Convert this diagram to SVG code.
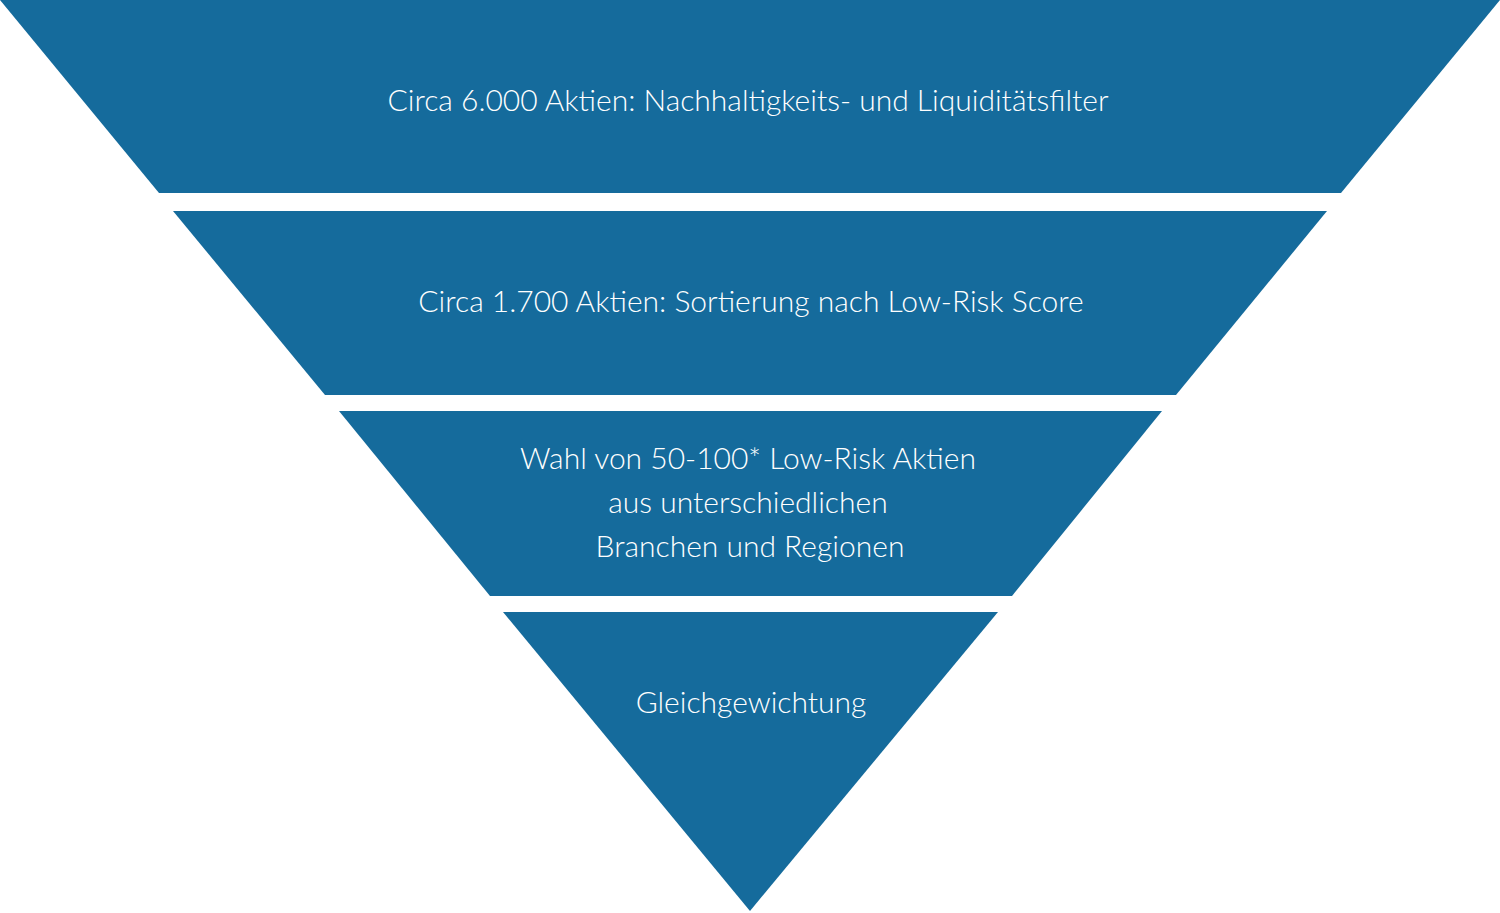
<svg xmlns="http://www.w3.org/2000/svg" width="1500" height="913" viewBox="0 0 1500 913">
<style>
.s{fill:#156b9c}
.t{fill:#fff;font-family:Lato,"Open Sans",sans-serif;font-size:30px;font-weight:300;text-anchor:middle}
</style>
<rect width="1500" height="913" fill="#fff"/>
<g id="level1"><polygon class="s" points="0,0 1500,0 1341,193 159,193"/><text class="t" x="748" y="111">Circa 6.000 Aktien: Nachhaltigkeits- und Liquiditätsfilter</text></g>
<g id="level2"><polygon class="s" points="173,211 1327,211 1176,395 325,395"/><text class="t" x="751" y="312">Circa 1.700 Aktien: Sortierung nach Low-Risk Score</text></g>
<g id="level3"><polygon class="s" points="339,411 1162,411 1012,596 490,596"/><text class="t" x="748" y="469">Wahl von 50-100* Low-Risk Aktien</text><text class="t" x="748" y="513">aus unterschiedlichen</text><text class="t" x="750" y="557">Branchen und Regionen</text></g>
<g id="level4"><polygon class="s" points="503,612 998,612 750,911"/><text class="t" x="751" y="713">Gleichgewichtung</text></g>
<g id="connectors"/>
</svg>
